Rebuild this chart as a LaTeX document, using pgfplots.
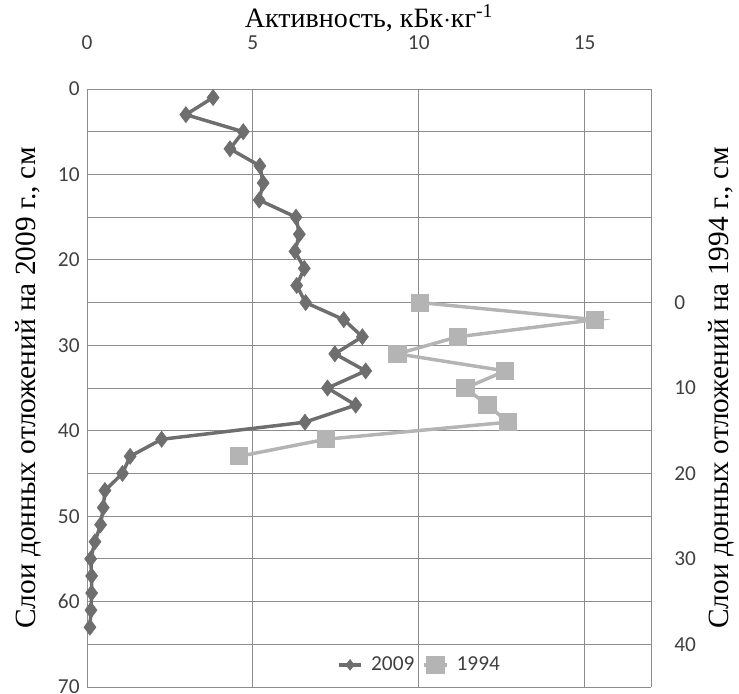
\documentclass[border=0pt]{standalone}
\usepackage{pgfplots}
\pgfplotsset{compat=1.18}
\usepackage{fontspec}
\setmainfont{Liberation Serif}
\newfontfamily\calibri{Carlito}
\definecolor{darkser}{HTML}{6E6E6E}
\definecolor{lightser}{HTML}{B4B4B4}
\definecolor{gridc}{HTML}{8C8C8C}
\definecolor{tickc}{HTML}{404040}
\pgfplotstableread{
val depth
3.80 1
2.98 3
4.71 5
4.31 7
5.21 9
5.31 11
5.19 13
6.30 15
6.40 17
6.27 19
6.55 21
6.32 23
6.59 25
7.74 27
8.30 29
7.47 31
8.40 33
7.25 35
8.10 37
6.57 39
2.25 41
1.30 43
1.07 45
0.54 47
0.49 49
0.41 51
0.24 53
0.11 55
0.14 57
0.14 59
0.12 61
0.09 63
}\tabA
\pgfplotstableread{
val depth
10.05 0
15.32 2
11.18 4
9.36 6
12.61 8
11.41 10
12.07 12
12.69 14
7.20 16
4.58 18
}\tabB
\begin{document}
\begin{tikzpicture}
\useasboundingbox (-65.25pt,-4.5pt) rectangle (489pt,515.25pt);
\pgfplotsset{
  every axis/.append style={
    scale only axis, width=423pt, height=448.5pt,
    xmin=0, xmax=17,
    /pgf/number format/assume math mode=true,
    tick style={draw=none},
    ticklabel style={font=\calibri\fontsize{16}{19}\selectfont, text=tickc},
  }
}
\begin{axis}[
  axis line style={draw=gridc},
  axis x line*=top,
  axis y line*=left,
  y dir=reverse,
  ymin=0, ymax=70,
  ytick={0,10,...,70},
  xtick={0,5,10,15},
  grid=both,
  minor ytick={5,15,...,65},
  major grid style={draw=gridc, line width=0.6pt},
  minor grid style={draw=gridc, line width=0.6pt},
  xticklabel pos=top,
  xticklabel style={yshift=26pt},
  yticklabel style={xshift=-2pt},
  xlabel={\fontsize{21}{24}\selectfont Активность, кБк$\cdot$кг\textsuperscript{-1}},
  xlabel style={at={(axis description cs:0.5,1)}, anchor=center, yshift=53pt},
  ylabel={\fontsize{22}{25}\selectfont Слои донных отложений на 2009 г., см},
  ylabel style={at={(axis description cs:0,0.5)}, anchor=center, yshift=44pt},
]
\addplot[darkser, line width=2.6pt, mark=diamond*, mark size=6pt, mark options={fill=darkser, draw=darkser, line width=0.5pt}] table[x=val, y=depth] {\tabA};
\end{axis}
\begin{axis}[
  axis line style={draw=gridc},
  axis x line*=bottom,
  axis y line*=right,
  y dir=reverse,
  ymin=-25, ymax=45,
  ytick={0,10,20,30,40},
  xtick=\empty,
  yticklabel style={xshift=14pt, anchor=west},
  ylabel={\fontsize{22}{25}\selectfont Слои донных отложений на 1994 г., см},
  ylabel style={at={(axis description cs:1,0.5)}, anchor=center, yshift=-53pt},
  legend style={at={(0.59,0.037)}, anchor=center, draw=none, fill=none,
    font=\calibri\fontsize{16}{19}\selectfont, text=tickc, column sep=4pt},
  legend columns=2,
]
\addlegendimage{darkser, line width=2.6pt, mark=diamond*, mark size=4pt, mark options={fill=darkser, draw=darkser, line width=0.5pt}}
\addlegendentry{2009}
\addplot[lightser, line width=2.6pt, mark=square*, mark size=5.5pt, mark options={fill=lightser, draw=lightser}] table[x=val, y=depth] {\tabB};
\addlegendentry{1994}
\end{axis}
\end{tikzpicture}
\end{document}
